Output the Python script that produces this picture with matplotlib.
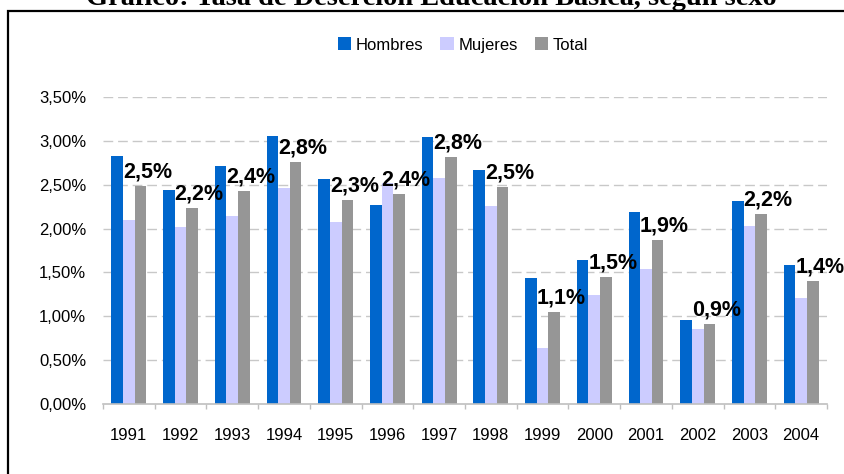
import matplotlib
matplotlib.use("Agg")
import matplotlib.pyplot as plt
import matplotlib.patches as mpatches
from matplotlib.ticker import FuncFormatter, FixedLocator
import numpy as np

years = ["1991", "1992", "1993", "1994", "1995", "1996", "1997",
         "1998", "1999", "2000", "2001", "2002", "2003", "2004"]
hombres = [2.83, 2.44, 2.71, 3.06, 2.57, 2.27, 3.04, 2.67, 1.44, 1.64, 2.19, 0.96, 2.31, 1.58]
mujeres = [2.10, 2.02, 2.14, 2.46, 2.08, 2.52, 2.58, 2.26, 0.64, 1.24, 1.54, 0.86, 2.03, 1.21]
total = [2.48, 2.24, 2.43, 2.76, 2.33, 2.39, 2.82, 2.47, 1.05, 1.45, 1.87, 0.91, 2.17, 1.40]
total_labels = ["2,5%", "2,2%", "2,4%", "2,8%", "2,3%", "2,4%", "2,8%",
                "2,5%", "1,1%", "1,5%", "1,9%", "0,9%", "2,2%", "1,4%"]
series_names = ["Hombres", "Mujeres", "Total"]
colors = ["#0066CC", "#CCCCFF", "#969696"]
yticks = [0.0, 0.5, 1.0, 1.5, 2.0, 2.5, 3.0, 3.5]

W, H = 844, 474
fig = plt.figure(figsize=(W / 100, H / 100), dpi=100)
sans = ["Liberation Sans", "DejaVu Sans"]

ax = fig.add_axes([103 / W, 1 - 404 / H, (827 - 103) / W, (404 - 97) / H])
x = np.arange(len(years))
bw = 0.225
for i, (vals, name, c) in enumerate(zip([hombres, mujeres, total], series_names, colors)):
    ax.bar(x + (i - 1) * bw, vals, width=bw, color=c, label=name, zorder=3, linewidth=0)

# data labels for total
for xi, v, lab in zip(x, total, total_labels):
    ax.annotate(lab, (xi + bw, v), xytext=(5, 2.5), textcoords="offset points",
                ha="center", va="bottom", fontsize=15.5, fontweight="bold",
                family=sans, color="black", zorder=5)

ax.set_xlim(-0.5, len(years) - 0.5)
ax.set_ylim(0, 3.5)
ax.yaxis.set_major_locator(FixedLocator(yticks))
ax.yaxis.set_major_formatter(FuncFormatter(lambda v, p: f"{v:.2f}".replace(".", ",") + "%"))
for yv in yticks[1:]:
    ax.axhline(yv, color="#C8C8C8", linewidth=1.0, linestyle=(0, (7, 3.5)), zorder=1)

ax.set_xticks(x)
ax.set_xticklabels(years)
ax.set_xticks(np.arange(-0.5, len(years), 1.0), minor=True)
ax.tick_params(axis="x", which="major", length=0, pad=17, labelsize=12)
ax.tick_params(axis="x", which="minor", length=3.8, color="#BFBFBF", width=1)
ax.tick_params(axis="y", length=0, pad=12, labelsize=12)
for lab in ax.get_xticklabels() + ax.get_yticklabels():
    lab.set_family(sans)
    lab.set_color("#000000")

for s in ["top", "right", "left"]:
    ax.spines[s].set_visible(False)
ax.spines["bottom"].set_color("#BFBFBF")
ax.spines["bottom"].set_linewidth(1.2)
ax.spines["bottom"].set_zorder(4)

leg = fig.legend(loc="center", bbox_to_anchor=(463 / W, 1 - 45 / H), ncol=3, frameon=False,
                 prop={"family": sans, "size": 12}, handlelength=0.8, handleheight=0.8,
                 handletextpad=0.3, columnspacing=1.0, borderaxespad=0)

# outer frame
frame = mpatches.Rectangle((8 / W, -0.1), 1.2, 1 - 11 / H + 0.1, transform=fig.transFigure,
                           fill=False, edgecolor="black", linewidth=1.6, clip_on=False)
fig.add_artist(frame)

fig.text(431 / W, 1 - 5 / H, "Gráfico: Tasa de Deserción Educación Básica, según sexo",
         ha="center", va="baseline", fontsize=20.4, fontweight="bold", family="Liberation Serif")

fig.savefig("out.png", dpi=100, facecolor="white")
